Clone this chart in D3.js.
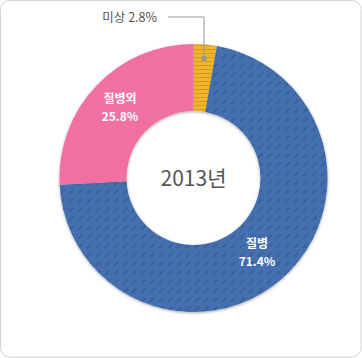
<!DOCTYPE html>
<html>
<head>
<meta charset="utf-8">
<script src="https://cdn.jsdelivr.net/npm/d3@7"></script>
<style>
  body { margin: 0; background: #fff; }
  svg { display: block; font-family: "Noto Sans CJK KR", "Noto Sans", sans-serif; }
</style>
</head>
<body>
<div id="chart"></div>
<script>
const W = 362, H = 358;
const CX = 193.5, CY = 178, R_OUT = 134, R_IN = 67;

const categories = ['미상', '질병', '질병외'];
const values = [2.8, 71.4, 25.8];
const colors = ['#f0b52a', '#4570b0', '#ef6fa1'];
const patterns = ['pat-yellow', 'pat-blue', null];
const title = '2013년';

const svg = d3.select('#chart').append('svg')
  .attr('width', W).attr('height', H);

const defs = svg.append('defs');

// hatching patterns
const py = defs.append('pattern').attr('id', 'pat-yellow')
  .attr('patternUnits', 'userSpaceOnUse').attr('width', 4).attr('height', 4);
py.append('rect').attr('width', 4).attr('height', 4).attr('fill', colors[0]);
py.append('rect').attr('y', 3).attr('width', 4).attr('height', 1).attr('fill', '#d09a1c');

const pb = defs.append('pattern').attr('id', 'pat-blue')
  .attr('patternUnits', 'userSpaceOnUse').attr('width', 9).attr('height', 9);
pb.append('rect').attr('width', 9).attr('height', 9).attr('fill', colors[1]);
pb.append('line').attr('x1', 2).attr('y1', 6.5).attr('x2', 5.5).attr('y2', 3)
  .attr('stroke', '#3b6099').attr('stroke-width', 2).attr('stroke-linecap', 'round');

const f = defs.append('filter').attr('id', 'shadow')
  .attr('x', '-10%').attr('y', '-10%').attr('width', '120%').attr('height', '120%');
f.append('feDropShadow').attr('dx', 0).attr('dy', 1).attr('stdDeviation', 1.5)
  .attr('flood-color', '#000').attr('flood-opacity', 0.35);

// frame
svg.append('rect')
  .attr('x', 0.5).attr('y', 0.5).attr('width', W - 1.5).attr('height', H - 1.5)
  .attr('rx', 9).attr('fill', '#fff').attr('stroke', '#d4d4d4');

const pie = d3.pie().sort(null).value(d => d)(values);
const arc = d3.arc().innerRadius(R_IN).outerRadius(R_OUT);

const g = svg.append('g').attr('transform', `translate(${CX},${CY})`);
g.append('g').attr('filter', 'url(#shadow)')
  .selectAll('path').data(pie).join('path')
  .attr('d', arc)
  .attr('fill', (d, i) => patterns[i] ? `url(#${patterns[i]})` : colors[i]);

// inner labels
const labelPos = {
  1: [257 - CX, 248 - CY],
  2: [120 - CX, 103 - CY]
};
[1, 2].forEach(i => {
  const [x, y] = labelPos[i];
  g.append('text').attr('x', x).attr('y', y).attr('text-anchor', 'middle')
    .attr('fill', '#fff').attr('font-size', 12).attr('font-weight', 'bold')
    .text(categories[i]);
  g.append('text').attr('x', x).attr('y', y + 18).attr('text-anchor', 'middle')
    .attr('fill', '#fff').attr('font-size', 12).attr('font-weight', 'bold')
    .text(values[i].toFixed(1) + '%');
});

// outside label for small slice
const mid = (pie[0].startAngle + pie[0].endAngle) / 2;
const px = Math.sin(mid) * (R_OUT - 14), pyy = -Math.cos(mid) * (R_OUT - 14);
g.append('path')
  .attr('d', `M${px},${pyy} L${px},${17 - CY} L${168 - CX},${17 - CY}`)
  .attr('fill', 'none').attr('stroke', '#999').attr('stroke-width', 1);
g.append('rect').attr('x', px - 2.5).attr('y', pyy - 2.5).attr('width', 5).attr('height', 5)
  .attr('fill', '#999');
g.append('text').attr('x', 157 - CX).attr('y', 22 - CY).attr('text-anchor', 'end')
  .attr('fill', '#555').attr('font-size', 12.5)
  .text(`${categories[0]} ${values[0].toFixed(1)}%`);

// center title
g.append('text').attr('x', 0).attr('y', 8).attr('text-anchor', 'middle')
  .attr('fill', '#555').attr('font-size', 21).text(title);
</script>
</body>
</html>
